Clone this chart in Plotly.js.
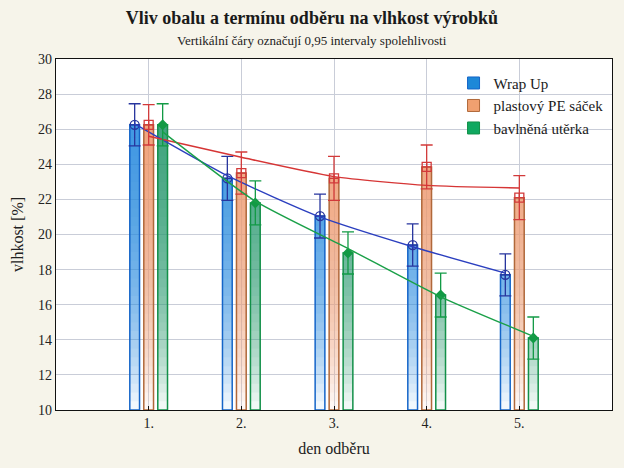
<!DOCTYPE html>
<html><head><meta charset="utf-8">
<script src="https://cdn.plot.ly/plotly-3.0.1.min.js"></script>
<style>html,body{margin:0;padding:0;background:#f6f4ea;}</style>
</head><body>
<div id="chart" style="width:624px;height:468px;"></div>
<script>
// categories (den odběru)
const categories = [1, 2, 3, 4, 5];
const tickLabels = ['1.', '2.', '3.', '4.', '5.'];
// series: mean moisture [%]
const wrapUp = [26.25, 23.2, 21.05, 19.4, 17.7];
const plastovy = [26.25, 23.5, 23.2, 23.85, 22.1];
const bavlnena = [26.25, 21.8, 18.95, 16.55, 14.1];
// 0.95 confidence half-widths
const errWrapUp = [1.2, 1.25, 1.25, 1.2, 1.2];
const errPlastovy = [1.15, 1.2, 1.25, 1.25, 1.25];
const errBavlnena = [1.2, 1.25, 1.2, 1.25, 1.2];
// fitted trend curves
const fitWrapUp = [26.3, 23.35, 21.0, 19.3, 17.8];
const fitPlastovy = [25.6, 24.4, 23.3, 22.8, 22.65];
const fitBavlnena = [25.85, 21.9, 19.2, 16.45, 14.2];
const seriesNames = ['Wrap Up', 'plastový PE sáček', 'bavlněná utěrka'];

const AXIS_MIN = 10, AXIS_MAX = 30;
const series = [
  {name: seriesNames[0], y: wrapUp, err: errWrapUp, fit: fitWrapUp, off: -0.151,
   rgb: [18,132,218], line: '#1565c8', ebar: '#27359e', fitc: '#2b3fbf', sym: 'circle-cross-open', legendFill: '#1e88d8'},
  {name: seriesNames[1], y: plastovy, err: errPlastovy, fit: fitPlastovy, off: 0,
   rgb: [236,140,88], line: '#b0683a', ebar: '#d23a3a', fitc: '#d63535', sym: 'square-cross-open', legendFill: '#f0a070'},
  {name: seriesNames[2], y: bavlnena, err: errBavlnena, fit: fitBavlnena, off: 0.151,
   rgb: [16,150,92], line: '#129048', ebar: '#129a45', fitc: '#1aa048', sym: 'diamond', legendFill: '#10a860'}
];

const traces = [];
const N = 40;
series.forEach(s => {
  const xs = categories.map(c => c + s.off);
  // gradient slices fixed to the value scale (darker higher up)
  for (let k = 0; k < N; k++) {
    const b = AXIS_MIN + k * (AXIS_MAX - AXIS_MIN) / N;
    traces.push({
      type: 'bar', x: xs, y: s.y.map(v => v > b ? v - b : null), base: b,
      width: 0.105, showlegend: false, hoverinfo: 'skip',
      marker: {color: `rgba(${s.rgb[0]},${s.rgb[1]},${s.rgb[2]},0.064)`, line: {width: 0}}
    });
  }
  // outline bar with error bars
  traces.push({
    type: 'bar', x: xs, y: s.y.map(v => v - AXIS_MIN), base: AXIS_MIN,
    width: 0.105, showlegend: false,
    marker: {color: 'rgba(255,255,255,0.12)', line: {color: s.line, width: 1.5}}
  });
  traces.push({
    type: 'scatter', mode: 'markers', x: xs, y: s.y, showlegend: false,
    marker: {symbol: s.sym, size: s.sym === 'diamond' ? 7 : 9, color: s.ebar, line: {color: s.ebar, width: 1.3}},
    error_y: {type: 'data', array: s.err, visible: true, color: s.ebar, thickness: 1.3, width: 6}
  });
  traces.push({
    type: 'scatter', mode: 'lines', x: xs, y: s.fit, showlegend: false,
    line: {color: s.fitc, width: 1.4, shape: 'spline', smoothing: 0.6}
  });
});
// legend entries
series.forEach(s => {
  traces.push({
    type: 'bar', x: [null], y: [null], name: s.name,
    marker: {color: s.legendFill, line: {color: s.line, width: 1}}
  });
});

const serif = 'Liberation Serif, serif';
const layout = {
  width: 624, height: 468,
  paper_bgcolor: '#f6f4ea', plot_bgcolor: '#ffffff',
  margin: {l: 56, r: 12, t: 59, b: 58, autoexpand: false},
  barmode: 'overlay',
  font: {family: serif, color: '#222', size: 14},
  title: {text: '<b>Vliv obalu a termínu odběru na vlhkost výrobků</b>', x: 0.5, xanchor: 'center',
          y: 1 - 18/468, yanchor: 'middle', font: {family: serif, size: 18, color: '#1a1a1a'}},
  annotations: [{text: 'Vertikální čáry označují 0,95 intervaly spolehlivosti', xref: 'paper', yref: 'paper',
                 x: (312 - 56) / 556, y: 1 + 18/351, xanchor: 'center', yanchor: 'middle', showarrow: false,
                 font: {family: serif, size: 13, color: '#222'}}],
  xaxis: {range: [0, 6], tickvals: categories, ticktext: tickLabels, showgrid: true, automargin: false,
          gridcolor: '#c9cdd8', gridwidth: 1, zeroline: false, showline: true, linecolor: '#111', linewidth: 1.2,
          mirror: true, ticks: 'inside', ticklen: 4, tickcolor: '#111',
          tickfont: {family: serif, size: 14},
          title: {text: 'den odběru', font: {family: serif, size: 16}, standoff: 12}},
  yaxis: {range: [AXIS_MIN, AXIS_MAX], dtick: 2, showgrid: true, gridcolor: '#c9cdd8', gridwidth: 1, zeroline: false, automargin: false,
          showline: true, linecolor: '#111', linewidth: 1.2, mirror: true, ticks: '', tickfont: {family: serif, size: 14},
          title: {text: 'vlhkost [%]', font: {family: serif, size: 16}, standoff: 10}},
  legend: {x: 0.715, y: 0.978, xanchor: 'left', yanchor: 'top', bgcolor: 'rgba(0,0,0,0)',
           font: {family: serif, size: 15, color: '#1a1a1a'}, tracegroupgap: 0},
  showlegend: true
};
Plotly.newPlot('chart', traces, layout, {displayModeBar: false, staticPlot: true});
</script>
</body></html>
